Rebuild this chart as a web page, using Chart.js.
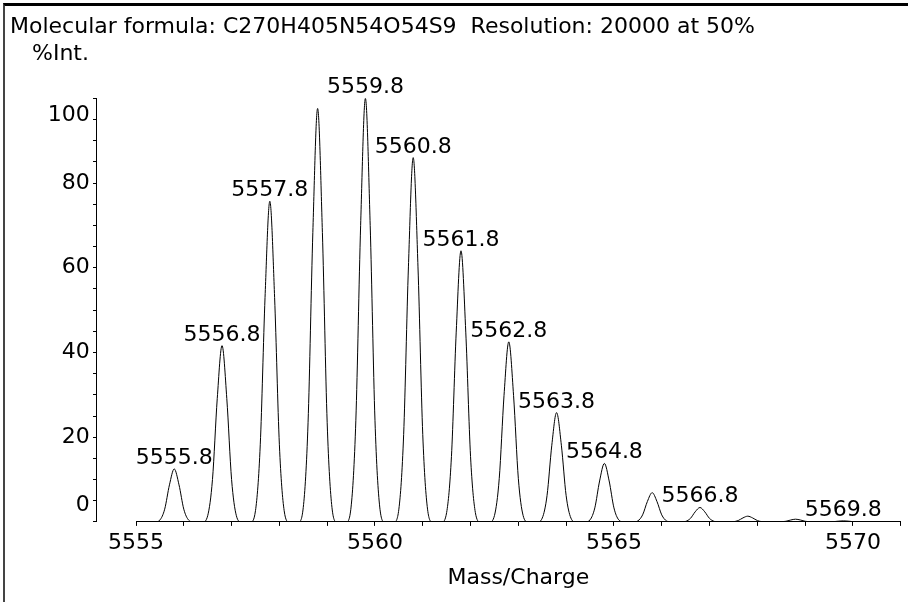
<!DOCTYPE html>
<html><head><meta charset="utf-8">
<script src="https://cdn.jsdelivr.net/npm/chart.js@4.4.1/dist/chart.umd.min.js"></script>
<style>
html,body{margin:0;padding:0;background:#fff;}
#wrap{position:relative;width:908px;height:602px;overflow:hidden;background:#fff;}
#frame{position:absolute;left:3px;top:3px;right:0;bottom:0;border-top:3px solid #000;border-left:2px solid #444;}
canvas{position:absolute;left:0;top:0;}
</style></head><body>
<div id="wrap"><div id="frame"></div><canvas id="c" width="908" height="602"></canvas></div>
<script>
// ---- text ----
const titleText = 'Molecular formula: C270H405N54O54S9  Resolution: 20000 at 50%';
const yUnitLabel = '%Int.';
const xAxisLabel = 'Mass/Charge';
const xTickLabels = [5555, 5560, 5565, 5570];
const yTickLabels = [0, 20, 40, 60, 80, 100];

// ---- labelled peaks (centroids) ----
const labelText = ['5555.8','5556.8','5557.8','5559.8','5560.8','5561.8','5562.8','5563.8','5564.8','5566.8','5569.8'];
const labelMass = [5555.8, 5556.8, 5557.8, 5559.8, 5560.8, 5561.8, 5562.8, 5563.8, 5564.8, 5566.8, 5569.8];
const labelIntensity = [12.5, 41.6, 75.7, 100, 86.0, 64.0, 42.5, 25.8, 13.8, 3.4, 0.25];

// ---- profile spectrum ----
const profileMass = [
  5555.2,
  5555.4, 5555.5, 5555.6, 5555.7, 5555.8, 5555.9, 5556.0, 5556.1, 5556.2,
  5556.4, 5556.5, 5556.6, 5556.7, 5556.8, 5556.9, 5557.0, 5557.1, 5557.2,
  5557.4, 5557.5, 5557.6, 5557.7, 5557.8, 5557.9, 5558.0, 5558.1, 5558.2,
  5558.4, 5558.5, 5558.6, 5558.7, 5558.8, 5558.9, 5559.0, 5559.1, 5559.2,
  5559.4, 5559.5, 5559.6, 5559.7, 5559.8, 5559.9, 5560.0, 5560.1, 5560.2,
  5560.4, 5560.5, 5560.6, 5560.7, 5560.8, 5560.9, 5561.0, 5561.1, 5561.2,
  5561.4, 5561.5, 5561.6, 5561.7, 5561.8, 5561.9, 5562.0, 5562.1, 5562.2,
  5562.4, 5562.5, 5562.6, 5562.7, 5562.8, 5562.9, 5563.0, 5563.1, 5563.2,
  5563.4, 5563.5, 5563.6, 5563.7, 5563.8, 5563.9, 5564.0, 5564.1, 5564.2,
  5564.4, 5564.5, 5564.6, 5564.7, 5564.8, 5564.9, 5565.0, 5565.1, 5565.2,
  5565.4, 5565.5, 5565.6, 5565.7, 5565.8, 5565.9, 5566.0, 5566.1, 5566.2,
  5566.4, 5566.5, 5566.6, 5566.7, 5566.8, 5566.9, 5567.0, 5567.1, 5567.2,
  5567.4, 5567.5, 5567.6, 5567.7, 5567.8, 5567.9, 5568.0, 5568.1, 5568.2,
  5568.4, 5568.5, 5568.6, 5568.7, 5568.8, 5568.9, 5569.0, 5569.1, 5569.2,
  5569.4, 5569.5, 5569.6, 5569.7, 5569.8, 5569.9, 5570.0, 5570.1, 5570.2,
  5571.0
];
const profileIntensity = [
  0,
  0, 0.44, 3.0, 8.75, 12.5, 8.75, 3.0, 0.44, 0,
  0, 1.46, 10.0, 29.1, 41.6, 29.1, 10.0, 1.46, 0,
  0, 2.65, 18.2, 53.0, 75.7, 53.0, 18.2, 2.65, 0,
  0, 3.42, 23.4, 68.3, 97.6, 68.3, 23.4, 3.42, 0,
  0, 3.5, 24.0, 70.0, 100, 70.0, 24.0, 3.5, 0,
  0, 3.01, 20.6, 60.2, 86.0, 60.2, 20.6, 3.01, 0,
  0, 2.24, 15.4, 44.8, 64.0, 44.8, 15.4, 2.24, 0,
  0, 1.49, 10.2, 29.8, 42.5, 29.8, 10.2, 1.49, 0,
  0, 0.90, 6.19, 18.1, 25.8, 18.1, 6.19, 0.90, 0,
  0, 0.48, 3.31, 9.66, 13.8, 9.66, 3.31, 0.48, 0,
  0, 0.24, 1.66, 4.83, 6.9, 4.83, 1.66, 0.24, 0,
  0, 0.12, 0.82, 2.38, 3.4, 2.38, 0.82, 0.12, 0,
  0, 0.05, 0.32, 0.95, 1.35, 0.95, 0.32, 0.05, 0,
  0, 0.02, 0.15, 0.45, 0.64, 0.45, 0.15, 0.02, 0,
  0, 0.01, 0.06, 0.18, 0.25, 0.18, 0.06, 0.01, 0,
  0
];

const FONT = 'DejaVu Sans';
const FS = 22;

const textPlugin = {
  id: 'texts',
  afterDraw(chart) {
    const {ctx, scales: {x, y}} = chart;
    ctx.save();
    ctx.fillStyle = '#000';
    ctx.font = FS + 'px "' + FONT + '"';
    ctx.textAlign = 'left';
    ctx.textBaseline = 'alphabetic';
    ctx.fillText(titleText, 10, 33);
    ctx.fillText(yUnitLabel, 32, 60);
    ctx.textAlign = 'center';
    labelMass.forEach((m, i) => {
      ctx.fillText(labelText[i], x.getPixelForValue(m), y.getPixelForValue(labelIntensity[i]) - 5);
    });
    ctx.restore();
  }
};

const points = profileMass.map((m, i) => ({x: m, y: profileIntensity[i]}));

new Chart(document.getElementById('c'), {
  type: 'line',
  data: {datasets: [{
    data: points, borderColor: '#000', borderWidth: 1, pointRadius: 0,
    cubicInterpolationMode: 'monotone', fill: false
  }]},
  options: {
    responsive: false, animation: false, devicePixelRatio: 1,
    layout: {padding: {left: 136, right: 7.3, top: 98.3, bottom: 10.8}},
    plugins: {legend: {display: false}, tooltip: {enabled: false}, title: {display: false}},
    scales: {
      x: {
        type: 'linear', min: 5555, max: 5571, position: 'bottom',
        border: {display: true, color: '#000', width: 1},
        grid: {display: true, drawOnChartArea: false, drawTicks: true, tickLength: 4, color: '#000', lineWidth: 1},
        ticks: {
          stepSize: 1, autoSkip: false, maxRotation: 0, padding: 4, color: '#000',
          font: {family: FONT, size: FS},
          callback: (v) => xTickLabels.includes(v) ? String(v) : ''
        },
        title: {display: true, text: xAxisLabel, color: '#000', font: {family: FONT, size: FS}, padding: {top: 4.5, bottom: 0}}
      },
      y: {
        type: 'linear', axis: 'y', min: 0, max: 100, position: {x: 5554.18},
        border: {display: true, color: '#000', width: 1},
        grid: {display: true, drawOnChartArea: false, drawTicks: true, tickLength: 3, color: '#000', lineWidth: 1},
        ticks: {
          stepSize: 5, autoSkip: false, padding: 4, color: '#000',
          font: {family: FONT, size: FS, lineHeight: 34 / FS},
          callback: (v) => {
            if (!yTickLabels.includes(v)) return '';
            const s = String(v) + ' ';
            if (v === 100) return ['', s];
            if (v === 0) return [s, ''];
            return s;
          }
        }
      }
    }
  },
  plugins: [textPlugin]
});
</script>
</body></html>
